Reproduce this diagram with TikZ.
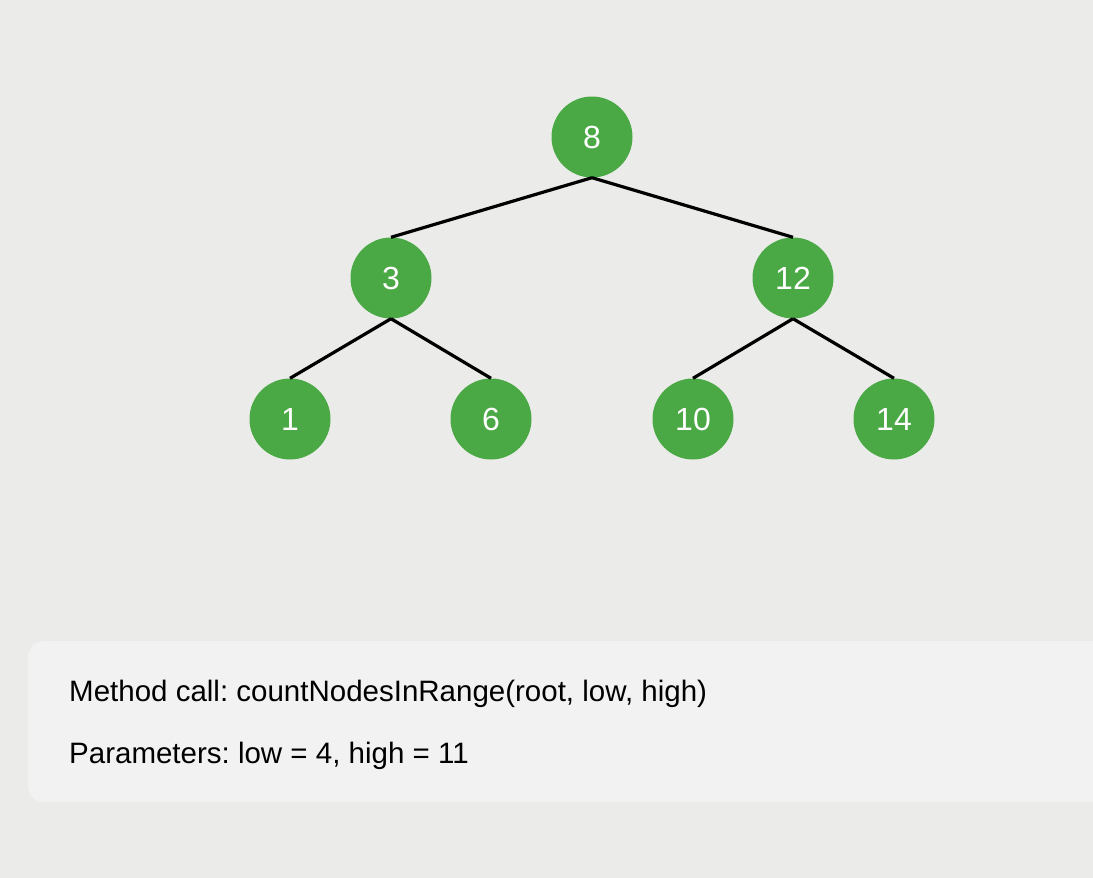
\documentclass[tikz,border=0pt]{standalone}
\usepackage{fontspec}
\setmainfont{Liberation Sans}
\frenchspacing
\definecolor{bg}{HTML}{EBECE9}
\definecolor{boxbg}{HTML}{F2F2F2}
\definecolor{nodegreen}{HTML}{4AA845}
\begin{document}
\begin{tikzpicture}[x=1pt,y=-1pt,
  treenode/.style={circle,fill=nodegreen,minimum size=81pt,inner sep=0pt,text=white,font=\fontsize{32}{38}\selectfont},
  edge/.style={line width=3.2pt,black},
  infotext/.style={anchor=base west,inner sep=0pt,font=\fontsize{29.5}{35}\selectfont}]
\fill[bg] (0,0) rectangle (1093,878);
\useasboundingbox (0,0) rectangle (1093,878);
\fill[boxbg,rounded corners=16pt] (28,641) rectangle (1120,802);
\node[treenode] (n8) at (592,137) {8};
\node[treenode] (n3) at (391,278) {3};
\node[treenode] (n12) at (793,278) {12};
\node[treenode] (n1) at (290,419) {1};
\node[treenode] (n6) at (491,419) {6};
\node[treenode] (n10) at (693,419) {10};
\node[treenode] (n14) at (894,419) {14};
\draw[edge] (n8.south) -- (n3.north);
\draw[edge] (n8.south) -- (n12.north);
\draw[edge] (n3.south) -- (n1.north);
\draw[edge] (n3.south) -- (n6.north);
\draw[edge] (n12.south) -- (n10.north);
\draw[edge] (n12.south) -- (n14.north);
\node[infotext] (t1) at (69,701) {Method call: countNodesInRange(root, low, high)};
\node[infotext] (t2) at (69,763) {Parameters: low = 4, high = 11};
\end{tikzpicture}
\end{document}
